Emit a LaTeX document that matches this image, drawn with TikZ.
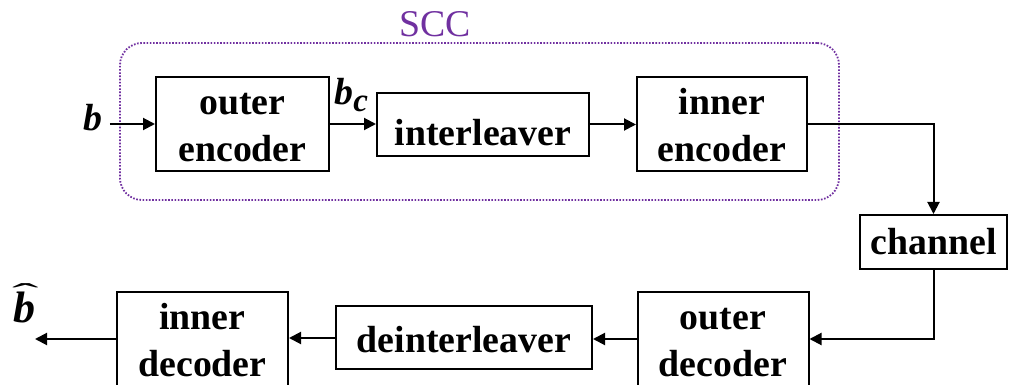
\documentclass[tikz,border=0pt]{standalone}
\usepackage{fontspec}
\setmainfont{Liberation Serif}
\usetikzlibrary{arrows.meta}
\definecolor{sccpurple}{RGB}{112,48,160}
\newcommand{\tstrut}{\rule{0pt}{14.5pt}}
\newcommand{\hatb}{\setbox0\hbox{\bfseries\itshape b}%
  \makebox[\wd0]{\hspace{1.2pt}\raisebox{9.2pt}{\scalebox{1.8}[0.65]{\normalfont\char"02C6}}}\llap{\box0}}
\tikzset{
  blk/.style={draw=black, line width=1pt, align=center, inner sep=0pt,
    font=\fontsize{18.9}{23.5}\selectfont\bfseries},
  arr/.style={line width=1pt, -{Triangle[length=6pt,width=6pt]}},
  lbl/.style={inner sep=0pt, font=\fontsize{18.9}{23}\selectfont\bfseries\itshape},
}
\begin{document}
\begin{tikzpicture}[x=0.5pt,y=-0.5pt]
\useasboundingbox (0,0) rectangle (1014,385);
% SCC group
\node[draw=sccpurple, dash pattern=on 0.8pt off 0.8pt, line width=0.9pt, rounded corners=11pt,
      minimum width=359.5pt, minimum height=78.5pt, inner sep=0pt] (scc) at (479.5,121.5) {};
\node[anchor=base, inner sep=0pt, text=sccpurple, font=\fontsize{18.9}{23}\selectfont] (scclbl) at (435,37) {SCC};
% encoder chain
\node[blk, minimum width=86.5pt, minimum height=47pt] (oe) at (242.5,124) {\tstrut outer\\encoder};
\node[blk, minimum width=106pt, minimum height=31.5pt, text height=21pt, text depth=0pt] (il) at (483,124.5) {interleaver};
\node[blk, minimum width=85pt, minimum height=47pt] (ie) at (722,124) {\tstrut inner\\encoder};
\node[blk, minimum width=73.5pt, minimum height=27pt, text height=13pt, text depth=0pt] (ch) at (933.5,242) {channel};
% decoder chain
\node[blk, minimum width=85.5pt, minimum height=47pt] (od) at (723,339) {\tstrut outer\\decoder};
\node[blk, minimum width=128pt, minimum height=31.5pt, text height=14pt, text depth=0pt] (di) at (464,338) {deinterleaver};
\node[blk, minimum width=85.5pt, minimum height=47pt] (id) at (202.5,339) {\tstrut inner\\decoder};
% labels
\node[lbl, anchor=base, inner xsep=3.5pt] (b) at (93,131) {b};
\node[lbl, anchor=base west] (bc) at (334,105) {b\raisebox{-3.5pt}{\fontsize{16.5}{16}\selectfont c}};
\node[inner sep=0pt, anchor=base, font=\fontsize{22}{26}\selectfont] (bhat) at (24,322) {\hatb};
\coordinate (out) at (35,339);
% connectors
\draw[arr] (b.east |- oe.west) -- (oe.west);
\draw[arr] (oe.east) -- (oe.east -| il.west);
\draw[arr] (il.east) -- (il.east -| ie.west);
\draw[arr] (ie.east) -| (ch.north);
\draw[arr] (ch.south) |- (od.east);
\draw[arr] (od.west) -- (od.west -| di.east);
\draw[arr] (di.west) -- (di.west -| id.east);
\draw[arr] (id.west) -- (out);
\end{tikzpicture}
\end{document}
